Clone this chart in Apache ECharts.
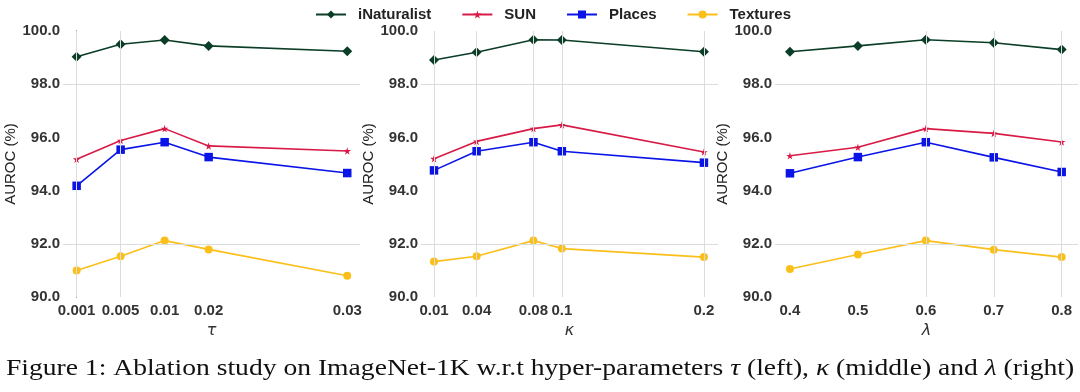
<!DOCTYPE html>
<html><head><meta charset="utf-8">
<script src="https://cdn.jsdelivr.net/npm/echarts@6/dist/echarts.min.js"></script>
<style>html,body{margin:0;padding:0;background:#fff}#c{width:1080px;height:392px}</style>
</head><body><div id="c"></div>
<script>
// ---- data ----
var seriesNames = ['iNaturalist', 'SUN', 'Places', 'Textures'];
// left panel: tau (plotted at uneven positions as in the original figure)
var tauLabels = ['0.001', '0.005', '0.01', '0.02', '0.03'];
var tauPos = [0, 1, 2, 3, 6.15];
var tauINat = [99.03, 99.50, 99.66, 99.44, 99.24];
var tauSUN = [95.18, 95.88, 96.33, 95.68, 95.49];
var tauPlaces = [94.18, 95.54, 95.82, 95.26, 94.66];
var tauTextures = [91.00, 91.53, 92.12, 91.79, 90.80];
// middle panel: kappa
var kappaVals = [0.01, 0.04, 0.08, 0.1, 0.2];
var kappaINat = [98.91, 99.20, 99.67, 99.66, 99.22];
var kappaSUN = [95.20, 95.85, 96.33, 96.47, 95.45];
var kappaPlaces = [94.76, 95.48, 95.82, 95.48, 95.05];
var kappaTextures = [91.33, 91.53, 92.12, 91.82, 91.50];
// right panel: lambda
var lambdaVals = [0.4, 0.5, 0.6, 0.7, 0.8];
var lambdaINat = [99.22, 99.44, 99.67, 99.56, 99.30];
var lambdaSUN = [95.31, 95.63, 96.33, 96.15, 95.83];
var lambdaPlaces = [94.65, 95.26, 95.82, 95.25, 94.70];
var lambdaTextures = [91.05, 91.60, 92.12, 91.78, 91.50];

// ---- styling ----
var colors = ['#0b3d27', '#d81b46', '#0a14e6', '#fbbf1a'];
var star = 'path://M50,0 L61,35 L98,35 L68,57 L79,91 L50,70 L21,91 L32,57 L2,35 L39,35 Z';
var symbols = ['diamond', star, 'rect', 'circle'];
var symSizes = [10, 7.5, 8.5, 8];
var gridLineStyle = {color: '#dcdcdc', width: 1, type: 'solid'};

var chart = echarts.init(document.getElementById('c'));

function pair(xs, ys) { return xs.map(function (x, i) { return [x, ys[i]]; }); }

var panels = [
  {x: tauPos, ys: [tauINat, tauSUN, tauPlaces, tauTextures], vgrid: [tauPos[0], tauPos[1]]},
  {x: kappaVals, ys: [kappaINat, kappaSUN, kappaPlaces, kappaTextures], vgrid: kappaVals},
  {x: lambdaVals, ys: [lambdaINat, lambdaSUN, lambdaPlaces, lambdaTextures], vgrid: [0.6, 0.7, 0.8]}
];

var grids = [
  {left: 63, top: 31, width: 297, height: 266},
  {left: 421, top: 31, width: 297, height: 266},
  {left: 775, top: 31, width: 303, height: 266}
];

var labelStyle = {color: '#333', fontSize: 15, fontWeight: 'bold', fontFamily: 'Liberation Sans, Arial, sans-serif'};

var xAxes = [
  {gridIndex: 0, type: 'value', min: -0.31, max: 6.44, name: 'τ',
   axisLabel: Object.assign({customValues: tauPos, margin: 6, formatter: function (v) { var i = tauPos.indexOf(v); return i >= 0 ? tauLabels[i] : ''; }}, labelStyle)},
  {gridIndex: 1, type: 'value', min: 0.00085, max: 0.2099, name: 'κ',
   axisLabel: Object.assign({customValues: kappaVals, margin: 6, formatter: function (v) { return String(v); }}, labelStyle)},
  {gridIndex: 2, type: 'value', min: 0.378, max: 0.824, name: 'λ',
   axisLabel: Object.assign({customValues: lambdaVals, margin: 6, formatter: function (v) { return String(v); }}, labelStyle)}
].map(function (a) {
  return Object.assign(a, {
    nameLocation: 'middle', nameGap: 22,
    nameTextStyle: {fontSize: 16, fontStyle: 'italic', color: '#333', fontFamily: 'DejaVu Sans, sans-serif'},
    axisLine: {show: false}, axisTick: {show: false}, splitLine: {show: false}
  });
});

var yAxes = [0, 1, 2].map(function (g) {
  return {
    gridIndex: g, type: 'value', min: 90, max: 100, interval: 2,
    name: 'AUROC (%)', nameLocation: 'middle', nameGap: 44,
    nameTextStyle: {fontSize: 15, color: '#222', fontFamily: 'Liberation Sans, Arial, sans-serif'},
    axisLabel: Object.assign({margin: 3, formatter: function (v) { return v.toFixed(1); }}, labelStyle),
    axisLine: {show: g === 0, lineStyle: {color: '#222', width: 1}},
    axisTick: {show: false}, splitLine: {show: false}
  };
});

var series = [];
panels.forEach(function (p, g) {
  // background grid lines
  series.push({
    type: 'line', xAxisIndex: g, yAxisIndex: g, data: [], silent: true, z: 1,
    markLine: {
      silent: true, symbol: 'none', label: {show: false}, lineStyle: gridLineStyle,
      data: p.vgrid.map(function (v) { return {xAxis: v}; }).concat([92, 98].map(function (v) { return {yAxis: v}; }))
    }
  });
  p.ys.forEach(function (ys, s) {
    series.push({
      name: seriesNames[s], type: 'line', xAxisIndex: g, yAxisIndex: g, z: 3,
      data: pair(p.x, ys), symbol: symbols[s], symbolSize: symSizes[s], showSymbol: true,
      itemStyle: {color: colors[s]}, lineStyle: {color: colors[s], width: 1.6}
    });
  });
});

chart.setOption({
  animation: false,
  color: colors,
  legend: {
    data: seriesNames, top: 2, left: 310, itemWidth: 30, itemHeight: 10, itemGap: 30,
    textStyle: {fontSize: 15, fontWeight: 'bold', color: '#222', padding: [0, 0, 0, 7], fontFamily: 'Liberation Sans, Arial, sans-serif'}
  },
  grid: grids,
  xAxis: xAxes,
  yAxis: yAxes,
  series: series,
  graphic: [{
    type: 'text', x: 540, y: 357, scaleX: 1.2,
    style: {
      text: 'Figure 1: Ablation study on ImageNet-1K w.r.t hyper-parameters {i|τ} (left), {i|κ} (middle) and {i|λ} (right)',
      font: '23px "Liberation Serif", serif', fill: '#111', align: 'center',
      rich: {i: {fontStyle: 'italic', fontSize: 23, fontFamily: 'Liberation Serif, serif'}}
    }
  }]
});
</script></body></html>
